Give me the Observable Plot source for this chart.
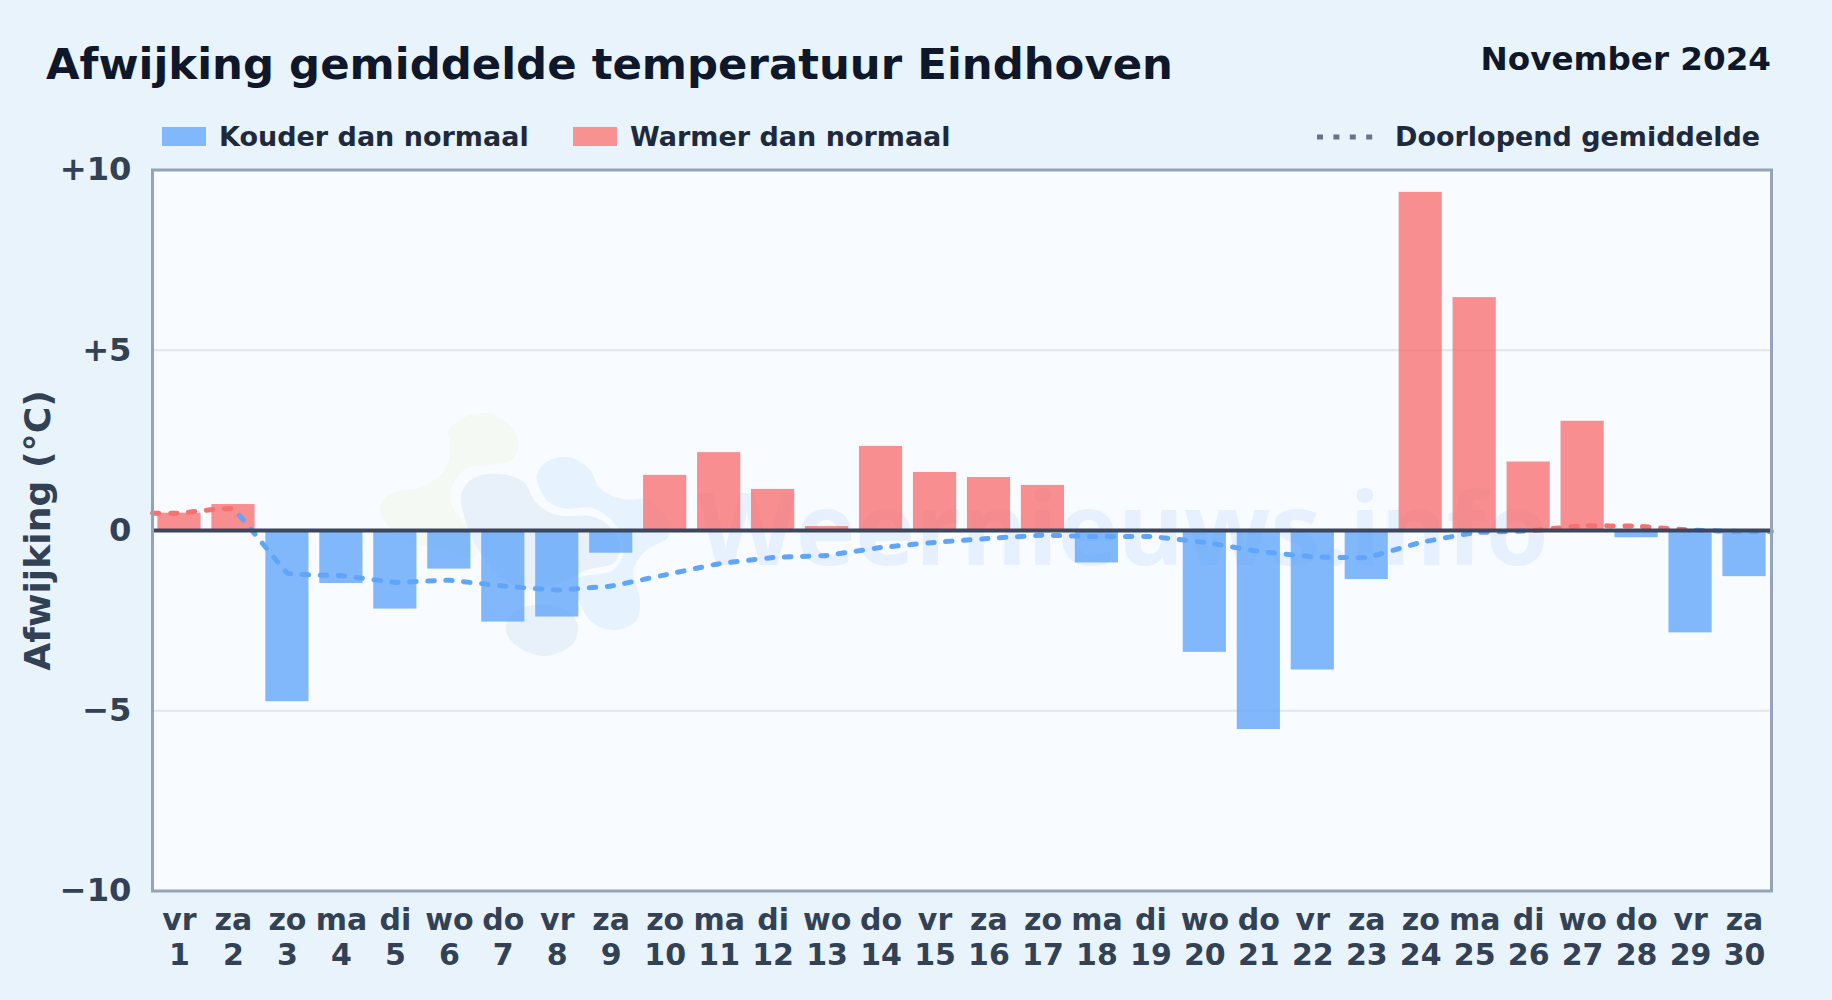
<!DOCTYPE html>
<html lang="nl">
<head>
<meta charset="utf-8">
<title>Afwijking gemiddelde temperatuur Eindhoven</title>
<script src="https://cdn.jsdelivr.net/npm/d3@7"></script>
<script src="https://cdn.jsdelivr.net/npm/@observablehq/plot@0.6"></script>
<style>
  html, body { margin: 0; padding: 0; background: #e8f3fc; }
  body { width: 1832px; height: 1000px; overflow: hidden; position: relative; font-family: "DejaVu Sans", sans-serif; font-weight: bold; }
  .t { position: absolute; white-space: nowrap; line-height: 1; }
  #title { left: 46px; top: 43px; font-size: 43.4px; color: #0f172a; }
  #period { right: 61px; top: 43px; font-size: 32.6px; color: #0f172a; }
  .lg { top: 123px; font-size: 27px; color: #1e293b; }
  .sw { position: absolute; top: 127px; width: 44px; height: 19px; }
  #chart { position: absolute; left: 0; top: 150px; }
  #dots { position: absolute; left: 1317px; top: 134px; }
</style>
</head>
<body>
<div class="t" id="title">Afwijking gemiddelde temperatuur Eindhoven</div>
<div class="t" id="period">November 2024</div>
<div class="sw" style="left:162px;background:#81b8fb"></div>
<div class="t lg" style="left:219px">Kouder dan normaal</div>
<div class="sw" style="left:573px;background:#f89191"></div>
<div class="t lg" style="left:630px">Warmer dan normaal</div>
<svg id="dots" width="58" height="6"><line x1="0" x2="58" y1="3" y2="3" stroke="#64748b" stroke-width="5" stroke-dasharray="6 10.4"/></svg>
<div class="t lg" style="left:1395px">Doorlopend gemiddelde</div>
<div id="chart"></div>
<script>
const days = d3.range(1, 31);
const weekdays = ["vr","za","zo","ma","di","wo","do","vr","za","zo","ma","di","wo","do","vr","za","zo","ma","di","wo","do","vr","za","zo","ma","di","wo","do","vr","za"];
const afwijking = [0.48,0.72,-4.75,-1.47,-2.18,-1.07,-2.54,-2.40,-0.63,1.53,2.16,1.14,0.11,2.33,1.61,1.47,1.25,-0.90,-0.05,-3.38,-5.52,-3.87,-1.36,9.38,6.46,1.90,3.03,-0.20,-2.84,-1.28];
const doorlopend = [0.48,0.60,-1.18,-1.25,-1.44,-1.38,-1.54,-1.65,-1.54,-1.23,-0.92,-0.75,-0.69,-0.47,-0.33,-0.22,-0.13,-0.17,-0.17,-0.33,-0.58,-0.73,-0.75,-0.33,-0.06,-0.01,0.13,0.12,0.01,-0.03];
const yTicks = [10,5,0,-5,-10];
const yLabels = ["+10","+5","0","\u22125","\u221210"];

const bars = days.map((d,i) => ({x1: d-0.4, x2: d+0.4, v: afwijking[i]}));
// the running-mean line runs on to both edges of the frame
const meanX = [0.5, ...days, 30.5];
const meanY = [doorlopend[0], ...doorlopend, doorlopend[29]];
const mean = meanX.map((x,i) => ({x, y: meanY[i]}));
const RED = "#f87171", BLUE = "#60a5fa";

const logoBlobs = [
  {fill:"#f4f9f4", pts:[[60,330],[85,285],[200,255],[258,205],[270,130],[265,90],[330,45],[400,42],[460,90],[475,140],[455,180],[390,195],[320,205],[280,250],[270,300],[300,355],[350,410],[345,470],[250,450],[120,410]]},
  {fill:"#e8f0f9", pts:[[305,280],[340,235],[420,222],[490,245],[530,310],[590,345],[700,350],[760,390],[780,450],[760,490],[680,510],[620,540],[520,570],[420,530],[350,440],[310,340]]},
  {fill:"#e8f0f9", pts:[[440,665],[480,625],[600,620],[652,670],[640,730],[560,768],[490,750],[445,710]]},
  {fill:"#e6f3fe", pts:[[530,230],[560,185],[630,172],[690,210],[720,265],[790,298],[860,300],[920,360],[925,410],[860,450],[820,510],[840,600],[830,660],[770,690],[700,670],[660,610],[650,540],[760,510],[790,460],[770,380],[700,325],[610,325],[560,300]]}
];

function watermark() {
  const g = d3.create("svg:g");
  const line = d3.line().curve(d3.curveCatmullRomClosed.alpha(0.5));
  for (const b of logoBlobs) {
    g.append("path").attr("fill", b.fill)
      .attr("d", line(b.pts.map(([x,y]) => [360 + x/3, 250 + y/3])));
  }
  g.append("text").text("Weernieuws.info")
    .attr("x", 698).attr("y", 415).attr("text-anchor", "start")
    .attr("font-family", "'Open Sans', sans-serif").attr("font-weight", "bold")
    .attr("font-size", 101).attr("fill", "#3b82f6").attr("fill-opacity", 0.09);
  return g.node();
}

function meanGradient(index, scales) {
  const x0 = scales.x(0.5), x1 = scales.x(30.5);
  const defs = d3.create("svg:defs");
  const grad = defs.append("linearGradient").attr("id","mean-stroke")
    .attr("gradientUnits","userSpaceOnUse")
    .attr("x1",x0).attr("x2",x1).attr("y1",0).attr("y2",0);
  for (let i = 0; i < mean.length-1; i++) {
    const c = mean[i+1].y >= 0 ? RED : BLUE;
    grad.append("stop").attr("offset",(scales.x(mean[i].x)-x0)/(x1-x0)).attr("stop-color",c);
    grad.append("stop").attr("offset",(scales.x(mean[i+1].x)-x0)/(x1-x0)).attr("stop-color",c);
  }
  return defs.node();
}

const plot = Plot.plot({
  width: 1832, height: 850,
  marginTop: 19.5, marginBottom: 109.5, marginLeft: 152, marginRight: 61,
  style: {background:"transparent", fontFamily:"'DejaVu Sans', sans-serif", overflow:"visible"},
  x: {domain:[0.5,30.5], axis:null},
  y: {domain:[-10,10], axis:null},
  marks: [
    Plot.frame({fill:"#f8fbff", stroke:null}),
    Plot.ruleY([-5,5], {stroke:"#dfe6ee", strokeWidth:2}),
    watermark,
    Plot.rectY(bars, {x1:"x1", x2:"x2", y1:0, y2:"v", fill:d => d.v<0 ? "#60a5fa" : "#f87171", fillOpacity:0.79}),
    meanGradient,
    Plot.line(mean, {x:"x", y:"y", curve:"cardinal", tension:0.8, stroke:"url(#mean-stroke)", strokeWidth:5, strokeDasharray:"6.5 11.5", strokeLinecap:"round"}),
    Plot.ruleY([0], {stroke:"#3a475c", strokeWidth:4}),
    Plot.frame({stroke:"#94a3b8", strokeWidth:3, fill:"none"}),
    Plot.axisY({ticks:yTicks, tickFormat:d => yLabels[yTicks.indexOf(d)], tickSize:0, tickPadding:21, fontSize:32.2, fontWeight:"bold", color:"#334155", label:null}),
    Plot.axisX({ticks:days, tickFormat:d => `${weekdays[d-1]}\n${d}`, tickSize:0, tickPadding:14, fontSize:30, fontWeight:"bold", color:"#334155", lineHeight:1.16, label:null}),
    Plot.text(["Afwijking (\u00b0C)"], {frameAnchor:"left", dx:-114, rotate:-90, textAnchor:"middle", fontSize:36.2, fontWeight:"bold", fill:"#334155"})
  ]
});
document.getElementById("chart").append(plot);
</script>
</body>
</html>
